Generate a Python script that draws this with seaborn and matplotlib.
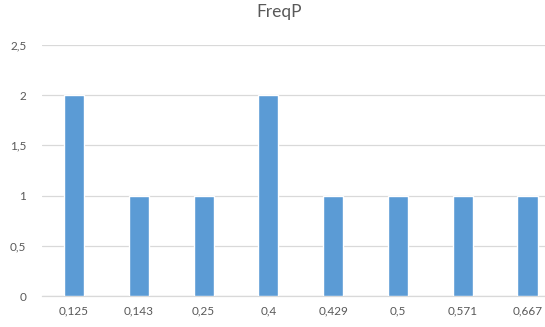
import matplotlib
matplotlib.use("Agg")
import matplotlib.pyplot as plt
import seaborn as sns
import pandas as pd

categories = ["0,125", "0,143", "0,25", "0,4", "0,429", "0,5", "0,571", "0,667"]
counts = [2, 1, 1, 2, 1, 1, 1, 1]
y_ticks = [0, 0.5, 1, 1.5, 2, 2.5]
y_tick_labels = ["0", "0,5", "1", "1,5", "2", "2,5"]
title = "FreqP"

df = pd.DataFrame({"p": categories, "freq": counts})

sns.set_theme(style="white")
plt.rcParams["font.family"] = ["Lato", "DejaVu Sans"]

text_color = "#595959"
fig = plt.figure(figsize=(5.45, 3.27), dpi=100)
ax = fig.add_axes([0.0763, 0.0948, 0.951, 0.7676])

sns.barplot(data=df, x="p", y="freq", color="#5B9BD5", saturation=1,
            width=0.31, ax=ax, zorder=3)

ax.set_xlim(-0.5, len(categories) - 0.5)
ax.set_ylim(0, 2.5)
ax.set_yticks(y_ticks)
ax.set_yticklabels(y_tick_labels)
ax.yaxis.grid(True, color="#D9D9D9", linewidth=0.9, zorder=0)
ax.set_axisbelow(True)
for side in ["top", "right", "left"]:
    ax.spines[side].set_visible(False)
ax.spines["bottom"].set_color("#D9D9D9")
ax.spines["bottom"].set_linewidth(0.9)
ax.tick_params(axis="both", length=0, labelsize=8.5, colors=text_color)
ax.tick_params(axis="y", pad=11)
ax.tick_params(axis="x", pad=7)
ax.set_xlabel("")
ax.set_ylabel("")

fig.text(0.512, 0.962, title, ha="center", va="center", fontsize=12.5,
         color=text_color)

fig.savefig("out.png", dpi=100)
